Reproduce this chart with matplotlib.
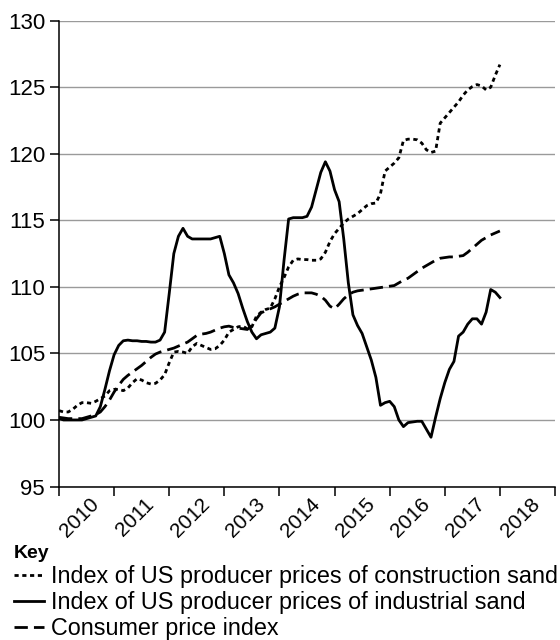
import numpy as np
import matplotlib
matplotlib.use("Agg")
import matplotlib.pyplot as plt

plt.rcParams['font.family'] = ['Liberation Sans', 'DejaVu Sans']

##### Monthly index values, Jan 2010 .. Jan 2018 (2010 = 100) #####
start_year = 2010
year_labels = ['2010', '2011', '2012', '2013', '2014', '2015', '2016', '2017', '2018']

construction_sand = [
    100.7, 100.6, 100.6, 100.8, 101.1, 101.3, 101.3, 101.25, 101.4, 101.6, 101.8, 102.2,
    102.3, 102.3, 102.2, 102.4, 102.8, 103.1, 103.0, 102.8, 102.7, 102.75, 103.0, 103.4,
    104.3, 105.1, 105.15, 105.1, 105.0, 105.5, 105.75, 105.6, 105.45, 105.3, 105.35, 105.6,
    106.0, 106.6, 106.8, 107.0, 107.05, 106.85, 107.0, 107.8, 108.1, 108.3, 108.4, 109.1,
    110.0, 110.7, 111.5, 112.0, 112.1, 112.05, 112.05, 112.0, 112.0, 112.1, 112.6, 113.4,
    114.0, 114.4, 114.8, 115.1, 115.3, 115.5, 115.8, 116.1, 116.25, 116.3, 117.0, 118.7,
    119.0, 119.3, 119.7, 121.0, 121.1, 121.1, 121.05, 120.8, 120.3, 120.1, 120.2, 122.3,
    122.7, 123.1, 123.5, 123.9, 124.4, 124.8, 125.05, 125.2, 125.1, 124.8, 125.0, 125.9,
    126.7]

industrial_sand = [
    100.1, 100.0, 100.0, 100.0, 100.0, 100.0, 100.1, 100.2, 100.3, 101.0, 102.3, 103.7,
    104.9, 105.6, 105.95, 106.0, 105.95, 105.95, 105.9, 105.9, 105.85, 105.85, 106.0, 106.6,
    109.5, 112.5, 113.8, 114.4, 113.8, 113.6, 113.6, 113.6, 113.6, 113.6, 113.7, 113.8,
    112.5, 110.9, 110.3, 109.5, 108.4, 107.4, 106.6, 106.1, 106.4, 106.5, 106.6, 106.9,
    108.5, 112.0, 115.1, 115.2, 115.2, 115.2, 115.3, 116.0, 117.3, 118.6, 119.4, 118.7,
    117.3, 116.4, 113.6, 110.3, 107.9, 107.1, 106.5, 105.5, 104.5, 103.2, 101.1, 101.3,
    101.4, 101.0, 100.0, 99.5, 99.8, 99.85, 99.9, 99.9, 99.3, 98.7, 100.2, 101.6,
    102.8, 103.8, 104.4, 106.3, 106.6, 107.2, 107.6, 107.6, 107.2, 108.1, 109.8, 109.6,
    109.2]

consumer_prices = [
    100.2, 100.15, 100.1, 100.1, 100.1, 100.1, 100.2, 100.3, 100.4, 100.6, 101.0, 101.5,
    102.1, 102.6, 103.05, 103.35, 103.6, 103.85, 104.1, 104.4, 104.7, 104.95, 105.1, 105.2,
    105.3, 105.4, 105.55, 105.7, 105.85, 106.1, 106.35, 106.45, 106.5, 106.6, 106.75, 106.9,
    107.0, 107.05, 106.95, 106.9, 106.85, 106.8, 107.1, 107.6, 108.05, 108.2, 108.35, 108.5,
    108.7, 108.9, 109.1, 109.3, 109.45, 109.55, 109.55, 109.55, 109.45, 109.3, 109.0, 108.55,
    108.35, 108.7, 109.1, 109.4, 109.6, 109.7, 109.75, 109.8, 109.85, 109.9, 109.95, 110.0,
    110.05, 110.1, 110.3, 110.5, 110.65, 110.9, 111.15, 111.4, 111.6, 111.8, 112.0, 112.15,
    112.2, 112.25, 112.25, 112.3, 112.35, 112.6, 112.9, 113.2, 113.5, 113.7, 113.9, 114.05,
    114.2]

series_names = ['Index of US producer prices of construction sand',
                'Index of US producer prices of industrial sand',
                'Consumer price index']

months = start_year + np.arange(len(construction_sand)) / 12.0

fig = plt.figure(figsize=(5.6, 6.4), dpi=100)
ax = fig.add_axes([59 / 560, 1 - 486.5 / 640, (555 - 59) / 560, (486.5 - 20.7) / 640])

lw = 2.0
l1, = ax.plot(months, construction_sand, color='black', lw=lw, dashes=(1.5, 1.3),
              dash_capstyle='butt', label=series_names[0])
l2, = ax.plot(months, industrial_sand, color='black', lw=lw, solid_joinstyle='round',
              label=series_names[1])
l3, = ax.plot(months, consumer_prices, color='black', lw=lw, dashes=(4.8, 2.2),
              dash_capstyle='butt', label=series_names[2])

##### Axes #####
ax.set_ylim(95, 130)
ax.set_yticks(np.arange(95, 131, 5))
ax.set_xlim(start_year, start_year + len(year_labels))
ax.set_xticks(np.arange(start_year, start_year + len(year_labels) + 1))
ax.set_xticklabels([])
ax.set_xticks(np.arange(start_year, start_year + len(year_labels)) + 0.38, minor=True)
ax.set_xticklabels(year_labels, minor=True, rotation=45, ha='center', fontsize=15)
ax.tick_params(axis='x', which='minor', length=0, pad=6)
ax.tick_params(axis='x', which='major', length=6.5, width=1.1, direction='out', color='black')
ax.tick_params(axis='y', labelsize=16, length=6.5, width=1.1, pad=3.5)

ax.grid(axis='y', color='#9a9a9a', lw=1.0)
ax.set_axisbelow(True)
for side in ['top', 'right']:
    ax.spines[side].set_visible(False)
for side in ['left', 'bottom']:
    ax.spines[side].set_linewidth(1.1)
    ax.spines[side].set_color('black')

##### Key #####
leg = fig.legend(handles=[l1, l2, l3], loc='upper left',
                 bbox_to_anchor=(14 / 560, 1 - 545 / 640), frameon=False,
                 fontsize=16.8, title='Key', title_fontproperties={'weight': 'bold', 'size': 14},
                 alignment='left', handlelength=1.3, handletextpad=0.3,
                 labelspacing=0.13, borderpad=0, borderaxespad=0)

fig.savefig('out.png', dpi=100)
